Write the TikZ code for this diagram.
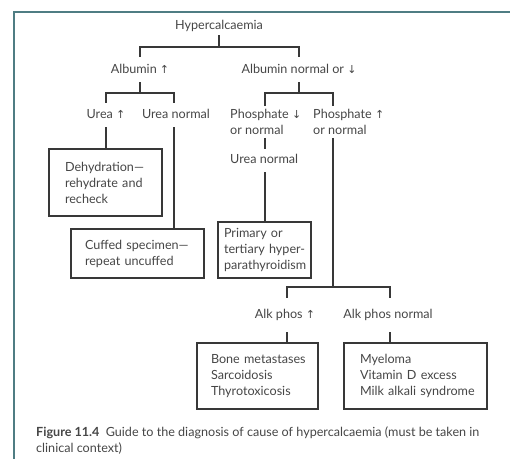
\documentclass[tikz,border=0pt]{standalone}
\usepackage{fontspec}
\setmainfont{Lato}
\newfontfamily\symf{DejaVu Sans}
\newcommand{\upa}{{\symf\fontsize{11}{11}\selectfont ↑}}
\newcommand{\dna}{{\symf\fontsize{11}{11}\selectfont ↓}}
\newcommand{\oneline}[1]{\mbox{#1}}
\definecolor{txt}{HTML}{464646}
\definecolor{ln}{HTML}{383838}
\definecolor{frame}{HTML}{4F7D83}
\begin{document}
\begin{tikzpicture}[x=1pt,y=-1pt,
  font=\fontsize{12.6}{16}\selectfont,
  lab/.style 2 args={inner xsep=0pt, inner ysep=0pt, text height=#1, text depth=#2, anchor=base, text=txt},
  ml/.style={inner xsep=0pt, inner ysep=3pt, align=left, anchor=north west, text=txt},
  box/.style n args={3}{draw=ln, line width=1.2pt, text=txt, align=left, text width=#1, inner xsep=#2, inner ysep=0pt, minimum height=#3},
  conn/.style={draw=ln, line width=1.1pt}]
\useasboundingbox (0,0) rectangle (510,459);
\draw[frame, line width=2pt] (510,12) -- (14,12) -- (14,459);

% labels
\node[lab={16pt}{6pt}] (hyp) at (219,29) {Hypercalcaemia};
\node[lab={16pt}{9pt}] (alb) at (140,73) {Albumin \upa};
\node[lab={16pt}{9pt}] (alN) at (299,73) {Albumin normal or \dna};
\node[lab={15pt}{9pt}] (ureaU) at (106,118) {Urea \upa};
\node[lab={15pt}{9pt}] (ureaN) at (176,118) {Urea normal};
\node[ml] (phD) at (230,106) {Phosphate \dna\\or normal};
\node[ml] (phU) at (313,106) {Phosphate \upa\\or normal};
\node[lab={14pt}{9pt}, anchor=base west] (un2) at (230,163) {Urea normal};
\node[lab={20pt}{14pt}] (alkU) at (285,318) {Alk phos \upa};
\node[lab={20pt}{14pt}] (alkN) at (388,318) {Alk phos normal};

% boxes
\node[box={81pt}{16pt}{67pt}] (dehy) at (105.5,182.5) {\oneline{Dehydration---}\\\oneline{rehydrate and}\\\oneline{recheck}};
\node[box={105pt}{14pt}{49pt}] (cuff) at (137.5,253.5) {\oneline{Cuffed specimen---}\\\oneline{repeat uncuffed}};
\node[box={81pt}{6pt}{56pt}] (prim) at (264.5,250) {\oneline{Primary or}\\\oneline{tertiary hyper-}\\\oneline{parathyroidism}};
\node[box={93pt}{14pt}{66pt}] (bone) at (257.5,376) {\oneline{Bone metastases}\\\oneline{Sarcoidosis}\\\oneline{Thyrotoxicosis}};
\node[box={111pt}{16pt}{66pt}] (myel) at (415.5,376) {\oneline{Myeloma}\\\oneline{Vitamin D excess}\\\oneline{Milk alkali syndrome}};

% caption
\node[inner sep=0pt, anchor=north west, align=left, text=txt, font=\fontsize{12.6}{16}\selectfont] (cap) at (36,427)
  {\textbf{Figure 11.4}\enspace Guide to the diagnosis of cause of hypercalcaemia (must be taken in\\clinical context)};

% bar coordinates
\coordinate (b1l) at (140,47); \coordinate (b1r) at (299,47);
\coordinate (b2l) at (106,93); \coordinate (b2r) at (174,93);
\coordinate (b3l) at (265,93); \coordinate (b3r) at (333,93);
\coordinate (b4l) at (287,287); \coordinate (b4r) at (390,287);

% connectors
\draw[conn] (hyp.south) -- (hyp.south |- b1l);
\draw[conn] (b1l |- alb.north) -- (b1l) -- (b1r) -- (b1r |- alN.north);
\draw[conn] (alb.south) -- (alb.south |- b2l);
\draw[conn] (b2l |- ureaU.north) -- (b2l) -- (b2r) -- (b2r |- ureaN.north);
\draw[conn] (alN.south) -- (alN.south |- b3l);
\draw[conn] (b3l |- phD.north) -- (b3l) -- (b3r) -- (b3r |- phU.north);
\draw[conn] (b2l |- ureaU.south) -- (b2l |- dehy.north);
\draw[conn] (b2r |- ureaN.south) -- (b2r |- cuff.north);
\draw[conn] (b3l |- phD.south) -- (b3l |- un2.north);
\draw[conn] (b3l |- un2.south) -- (b3l |- prim.north);
\draw[conn] (b3r |- phU.south) -- (b3r |- b4l);
\draw[conn] (b4l |- alkU.north) -- (b4l) -- (b4r) -- (b4r |- alkN.north);
\draw[conn] (b4l |- alkU.south) -- (b4l |- bone.north);
\draw[conn] (b4r |- alkN.south) -- (b4r |- myel.north);
\end{tikzpicture}
\end{document}
